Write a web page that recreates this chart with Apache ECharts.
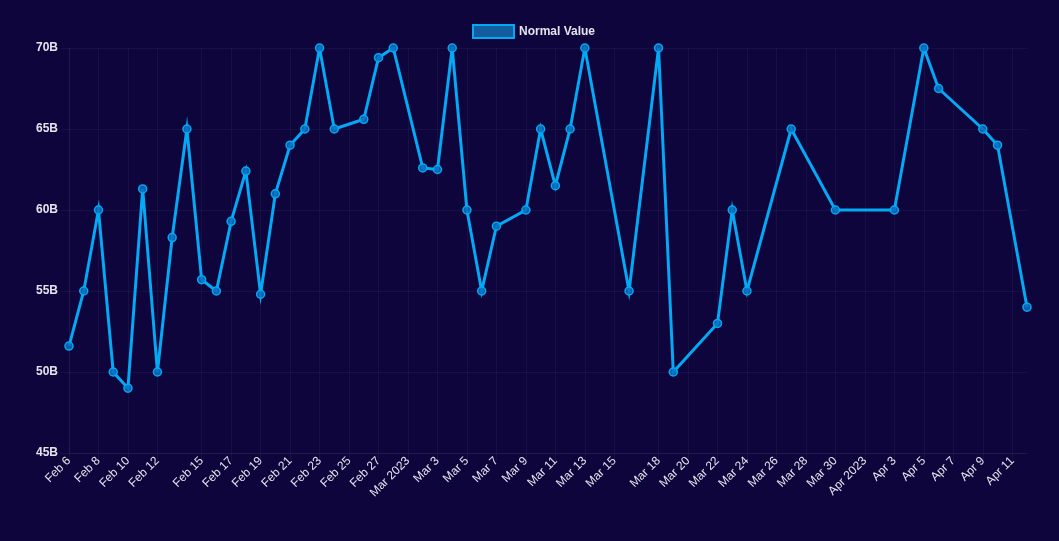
<!DOCTYPE html>
<html>
<head>
<meta charset="utf-8">
<script src="https://cdn.jsdelivr.net/npm/echarts@6/dist/echarts.min.js"></script>
<style>
  html, body { margin: 0; padding: 0; background: #0e053c; }
  #chart { width: 1059px; height: 541px; }
</style>
</head>
<body>
<div id="chart"></div>
<script>
// ---- data ----
const dates = [
  '2023-02-06','2023-02-07','2023-02-08','2023-02-09','2023-02-10','2023-02-11','2023-02-12',
  '2023-02-13','2023-02-14','2023-02-15','2023-02-16','2023-02-17','2023-02-18','2023-02-19',
  '2023-02-20','2023-02-21','2023-02-22','2023-02-23','2023-02-24','2023-02-26','2023-02-27',
  '2023-02-28','2023-03-02','2023-03-03','2023-03-04','2023-03-05','2023-03-06','2023-03-07',
  '2023-03-09','2023-03-10','2023-03-11','2023-03-12','2023-03-13','2023-03-16','2023-03-18',
  '2023-03-19','2023-03-22','2023-03-23','2023-03-24','2023-03-27','2023-03-30','2023-04-03',
  '2023-04-05','2023-04-06','2023-04-09','2023-04-10','2023-04-12'
];
const values = [
  51.6, 55.0, 60.0, 50.0, 49.0, 61.3, 50.0,
  58.3, 65.0, 55.7, 55.0, 59.3, 62.4, 54.8,
  61.0, 64.0, 65.0, 70.0, 65.0, 65.6, 69.4,
  70.0, 62.6, 62.5, 70.0, 60.0, 55.0, 59.0,
  60.0, 65.0, 61.5, 65.0, 70.0, 55.0, 70.0,
  50.0, 53.0, 60.0, 55.0, 65.0, 60.0, 60.0,
  70.0, 67.5, 65.0, 64.0, 54.0
];
const tickDates = [
  '2023-02-06','2023-02-08','2023-02-10','2023-02-12','2023-02-15','2023-02-17','2023-02-19',
  '2023-02-21','2023-02-23','2023-02-25','2023-02-27','2023-03-01','2023-03-03','2023-03-05',
  '2023-03-07','2023-03-09','2023-03-11','2023-03-13','2023-03-15','2023-03-18','2023-03-20',
  '2023-03-22','2023-03-24','2023-03-26','2023-03-28','2023-03-30','2023-04-01','2023-04-03',
  '2023-04-05','2023-04-07','2023-04-09','2023-04-11'
];
const tickLabels = [
  'Feb 6','Feb 8','Feb 10','Feb 12','Feb 15','Feb 17','Feb 19',
  'Feb 21','Feb 23','Feb 25','Feb 27','Mar 2023','Mar 3','Mar 5',
  'Mar 7','Mar 9','Mar 11','Mar 13','Mar 15','Mar 18','Mar 20',
  'Mar 22','Mar 24','Mar 26','Mar 28','Mar 30','Apr 2023','Apr 3',
  'Apr 5','Apr 7','Apr 9','Apr 11'
];
const seriesName = 'Normal Value';
const xMin = '2023-02-06';
const xMax = '2023-04-12';

// ---- helpers ----
function ts(s) {
  const p = s.split('-').map(Number);
  return Date.UTC(p[0], p[1] - 1, p[2]);
}
const tickTs = tickDates.map(ts);
const labelMap = {};
tickTs.forEach((t, i) => { labelMap[t] = tickLabels[i]; });

const gridColor = 'rgba(255,255,255,0.045)';
const textColor = '#e4e4ec';
const lineColor = '#03a9f4';

const chart = echarts.init(document.getElementById('chart'));
chart.setOption({
  backgroundColor: '#0e053c',
  animation: false,
  legend: {
    top: 19,
    left: 467,
    icon: 'rect',
    itemWidth: 41,
    itemHeight: 13,
    textStyle: { color: textColor, fontSize: 12, fontFamily: 'Liberation Sans, Arial, sans-serif', fontWeight: 'bold' },
    data: [{ name: seriesName, itemStyle: { color: '#135d9e', borderColor: lineColor, borderWidth: 2 } }]
  },
  grid: { left: 69, right: 32, top: 48, bottom: 88, containLabel: false },
  xAxis: {
    type: 'value',
    min: ts(xMin),
    max: ts(xMax),
    axisLine: { show: true, lineStyle: { color: gridColor } },
    axisTick: { show: true, length: 8, customValues: tickTs, lineStyle: { color: gridColor } },
    splitLine: { show: true, lineStyle: { color: gridColor, width: 1 } },
    axisLabel: {
      customValues: tickTs,
      rotate: 45,
      margin: 6,
      color: textColor,
      fontSize: 12,
      fontFamily: 'Liberation Sans, Arial, sans-serif',
      hideOverlap: false,
      showMinLabel: true,
      showMaxLabel: true,
      formatter: function (v) { return labelMap[v] !== undefined ? labelMap[v] : ''; }
    }
  },
  yAxis: {
    type: 'value',
    min: 45,
    max: 70,
    interval: 5,
    axisLine: { show: true, lineStyle: { color: gridColor } },
    axisTick: { show: true, length: 8, lineStyle: { color: gridColor } },
    splitLine: { show: true, lineStyle: { color: gridColor, width: 1 } },
    axisLabel: {
      margin: 11,
      color: textColor,
      fontSize: 12,
      fontFamily: 'Liberation Sans, Arial, sans-serif',
      fontWeight: 'bold',
      formatter: '{value}B'
    }
  },
  series: [{
    name: seriesName,
    type: 'line',
    data: dates.map((d, i) => [ts(d), values[i]]),
    symbol: 'circle',
    symbolSize: 8,
    showAllSymbol: true,
    lineStyle: { color: lineColor, width: 3, join: 'miter', miterLimit: 10 },
    itemStyle: { color: 'rgba(10,110,190,0.85)', borderColor: lineColor, borderWidth: 1.5 }
  }]
});
</script>
</body>
</html>
